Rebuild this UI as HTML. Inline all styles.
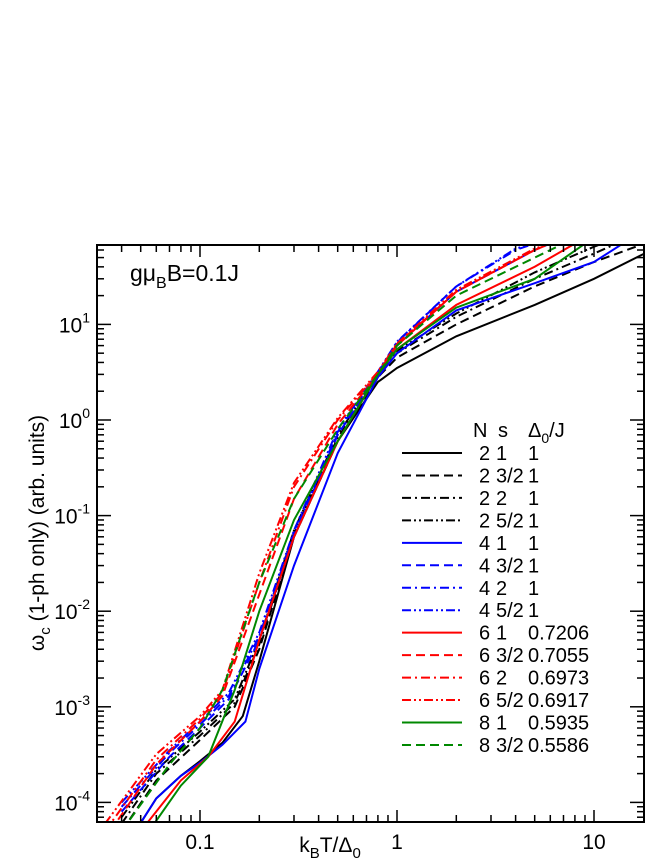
<!DOCTYPE html>
<html><head><meta charset="utf-8"><style>
html,body{margin:0;padding:0;background:#fff;}
svg{display:block;font-family:"Liberation Sans",sans-serif;}
</style></head><body>
<svg id="chart" width="664" height="860" viewBox="0 0 664 860">
<g id="plot"></g>
<g id="axes"></g>
<text x="130" y="281" font-size="23">gμ<tspan font-size="16" dy="7">B</tspan><tspan dy="-7">B=0.1J</tspan></text>
<text x="330" y="852" font-size="21" text-anchor="middle">k<tspan font-size="15" dy="6">B</tspan><tspan dy="-6">T/Δ</tspan><tspan font-size="15" dy="6">0</tspan></text>
<text transform="translate(44,533) rotate(-90)" font-size="21" text-anchor="middle">ω<tspan font-size="15" dy="6">c</tspan><tspan dy="-6"> (1-ph only) (arb. units)</tspan></text>
<g id="legend"></g>
</svg>
<script>
const NS="http://www.w3.org/2000/svg";
const xTicks=[0.1,1,10];
const xTickLabels=["0.1","1","10"];
const yTicks=[-4,-3,-2,-1,0,1];
const seriesNames=["2 1","2 3/2","2 2","2 5/2","4 1","4 3/2","4 2","4 5/2","6 1","6 3/2","6 2","6 5/2","8 1","8 3/2"];
const legendN=["2","2","2","2","4","4","4","4","6","6","6","6","8","8"];
const legendS=["1","3/2","2","5/2","1","3/2","2","5/2","1","3/2","2","5/2","1","3/2"];
const legendD=["1","1","1","1","1","1","1","1","0.7206","0.7055","0.6973","0.6917","0.5935","0.5586"];
const colors=["#000","#000","#000","#000","#00f","#00f","#00f","#00f","#f00","#f00","#f00","#f00","#080","#080"];
const styles=["solid","dash","dashdot","dashdotdot","solid","dash","dashdot","dashdotdot","solid","dash","dashdot","dashdotdot","solid","dash"];
const s0x=[0.047,0.06,0.08,0.1,0.13,0.165,0.2,0.3,0.5,0.8,1,2,5,10,18];
const s0y=[5e-5,1.1e-4,1.9e-4,2.7e-4,4.2e-4,8e-4,3e-3,6e-2,0.6,2.5,3.5,7.5,16,30,55];
const s1x=[0.04,0.06,0.1,0.15,0.2,0.3,0.5,0.8,1,2,5,10,18];
const s1y=[5e-5,1.7e-4,4.5e-4,1e-3,4e-3,6e-2,0.6,2.8,4.5,10,25,45,70];
const s2x=[0.04,0.06,0.1,0.15,0.2,0.3,0.5,0.8,1,2,5,10,13];
const s2y=[6e-5,2e-4,5e-4,1.1e-3,4.5e-3,6.5e-2,0.65,2.9,5,12,30,55,70];
const s3x=[0.04,0.06,0.1,0.15,0.2,0.3,0.5,0.8,1,2,5,10,11];
const s3y=[7e-5,2.2e-4,5.5e-4,1.2e-3,5e-3,7e-2,0.7,3,5.3,13,35,65,70];
const s4x=[0.047,0.06,0.08,0.1,0.13,0.17,0.2,0.3,0.5,0.8,1,2,5,10,14];
const s4y=[5e-5,1.1e-4,1.9e-4,2.6e-4,4e-4,7e-4,2.5e-3,3e-2,0.45,2.8,5,14,27,45,70];
const s5x=[0.04,0.07,0.1,0.14,0.2,0.3,0.5,0.8,1,2,5,6];
const s5y=[8e-5,3e-4,6e-4,1.2e-3,5e-3,6e-2,0.7,3,6,22,60,70];
const s6x=[0.04,0.07,0.1,0.14,0.2,0.3,0.5,0.8,1,2,4,5];
const s6y=[9e-5,3.3e-4,6.5e-4,1.3e-3,5.5e-3,6.5e-2,0.75,3.1,6.5,25,60,70];
const s7x=[0.04,0.07,0.1,0.14,0.2,0.3,0.5,0.8,1,2,4,5];
const s7y=[1e-4,3.5e-4,7e-4,1.4e-3,6e-3,7e-2,0.8,3.2,6.6,25,62,70];
const s8x=[0.05,0.08,0.11,0.15,0.2,0.3,0.5,0.8,1,2,5,8];
const s8y=[5e-5,1.7e-4,3e-4,7e-4,5e-3,6e-2,0.6,3,5.5,16,40,70];
const s9x=[0.035,0.06,0.1,0.13,0.2,0.3,0.5,0.8,1,2,5,6];
const s9y=[5e-5,2.5e-4,7e-4,1.3e-3,1.5e-2,0.15,0.9,3,6,22,60,70];
const s10x=[0.033,0.06,0.1,0.13,0.2,0.3,0.5,0.8,1,2,5,6];
const s10y=[5e-5,2.8e-4,7.5e-4,1.4e-3,2e-2,0.2,1,3.1,6.2,22,60,70];
const s11x=[0.033,0.06,0.1,0.13,0.2,0.3,0.5,0.8,1,2,5,6];
const s11y=[6e-5,3.2e-4,8e-4,1.5e-3,2.5e-2,0.22,1.05,3.2,6.3,23,62,70];
const s12x=[0.055,0.08,0.11,0.15,0.2,0.3,0.5,0.8,1,2,5,9];
const s12y=[5e-5,1.5e-4,3e-4,1.5e-3,1e-2,9e-2,0.6,3,5.5,15,30,70];
const s13x=[0.04,0.07,0.1,0.13,0.2,0.3,0.5,0.8,1,2,5,7];
const s13y=[5e-5,2.5e-4,6e-4,1.5e-3,2e-2,0.15,0.8,3,6,20,50,70];
const SX=[s0x,s1x,s2x,s3x,s4x,s5x,s6x,s7x,s8x,s9x,s10x,s11x,s12x,s13x];
const SY=[s0y,s1y,s2y,s3y,s4y,s5y,s6y,s7y,s8y,s9y,s10y,s11y,s12y,s13y];

const L=97,R=644,T=245,B=822;
function xs(v){return 397+(Math.log10(v))*197;}
function ys(v){return 420-(Math.log10(v))*95.6;}
const dashes={solid:"",dash:"9,5",dashdot:"9,4,2,4",dashdotdot:"9,3,2,3,2,3"};
function mk(tag,attrs,parent){const e=document.createElementNS(NS,tag);for(const k in attrs)e.setAttribute(k,attrs[k]);parent.appendChild(e);return e;}

const svg=document.getElementById('chart');
const defs=mk('defs',{},svg);
const cp=mk('clipPath',{id:'clip'},defs);
mk('rect',{x:L,y:T,width:R-L,height:B-T},cp);
const plot=document.getElementById('plot');
plot.setAttribute('clip-path','url(#clip)');
for(let i=0;i<SX.length;i++){
  const d=SX[i].map((x,j)=>(j?'L':'M')+xs(x).toFixed(1)+','+ys(SY[i][j]).toFixed(1)).join(' ');
  const p=mk('path',{d:d,fill:'none',stroke:colors[i],'stroke-width':2,'stroke-dasharray':dashes[styles[i]]},plot);
  
  
}
const axes=document.getElementById('axes');
mk('rect',{x:L,y:T,width:R-L,height:B-T,fill:'none',stroke:'#000','stroke-width':2},axes);
for(let dec=-2;dec<=1;dec++){for(let m=1;m<=9;m++){const v=m*Math.pow(10,dec);const x=xs(v);if(x<L||x>R)continue;const len=m===1?12:7;
  mk('line',{x1:x,y1:B,x2:x,y2:B-len,stroke:'#000','stroke-width':1.5},axes);
  mk('line',{x1:x,y1:T,x2:x,y2:T+len,stroke:'#000','stroke-width':1.5},axes);}}
xTicks.forEach((v,i)=>{const t=mk('text',{x:xs(v),y:B+27,'font-size':21,'text-anchor':'middle'},axes);t.textContent=xTickLabels[i];
  
  });
for(let dec=-5;dec<=1;dec++){for(let m=1;m<=9;m++){const v=m*Math.pow(10,dec);const y=ys(v);if(y<T||y>B)continue;const len=m===1?14:7;
  mk('line',{x1:L,y1:y,x2:L+len,y2:y,stroke:'#000','stroke-width':1.5},axes);
  mk('line',{x1:R,y1:y,x2:R-len,y2:y,stroke:'#000','stroke-width':1.5},axes);}}
yTicks.forEach(e=>{const y=ys(Math.pow(10,e));const t=mk('text',{x:L-7,y:y+8,'font-size':21,'text-anchor':'end'},axes);
  t.innerHTML='10<tspan font-size="14" dy="-10">'+e+'</tspan>';
  
  });
const lg=document.getElementById('legend');
function txt(x,y,s,size,parent){const t=mk('text',{x:x,y:y,'font-size':size},parent);t.textContent=s;return t;}
const hg=mk('g',{},lg);


txt(473,437,'N',20,hg);
txt(498,437,'s',20,hg);
const hd=mk('text',{x:528,y:437,'font-size':20},hg);
hd.innerHTML='Δ<tspan font-size="14" dy="6">0</tspan><tspan dy="-6">/J</tspan>';
for(let i=0;i<seriesNames.length;i++){
  const y=453+i*22.46;
  const g=mk('g',{},lg);
  
  
  mk('line',{x1:402,y1:y,x2:462,y2:y,stroke:colors[i],'stroke-width':2,'stroke-dasharray':dashes[styles[i]]},g);
  txt(479,y+7,legendN[i],20,g);
  txt(496,y+7,legendS[i],20,g);
  txt(528,y+7,legendD[i],20,g);
}
</script>
</body></html>
